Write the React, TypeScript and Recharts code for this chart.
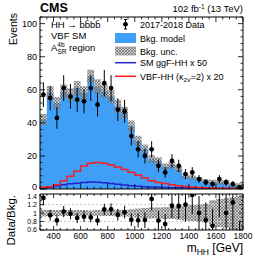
import React from 'react';
import { ComposedChart, Area, Line, Scatter, ErrorBar, XAxis, YAxis, ReferenceLine } from 'recharts';

const FONT = "'Liberation Sans', Arial, Helvetica, sans-serif";

// m_HH bin edges [GeV]
const BIN_EDGES = [300, 350, 400, 450, 500, 550, 600, 650, 700, 750, 800, 850, 900, 950, 1000, 1050,
  1100, 1150, 1200, 1250, 1300, 1350, 1400, 1450, 1500, 1550, 1600, 1650, 1700, 1750, 1800];

// background model (events per bin) and its relative uncertainty
const BKG = [42, 58, 52, 59, 57, 61, 58, 68, 62, 59, 56, 50, 46, 38, 29, 24, 18, 17, 13.5, 14.5,
  12, 7.5, 7, 6, 4.8, 4.3, 4, 4, 2.4, 2.5];
const BKG_UNC = [0.08, 0.07, 0.07, 0.07, 0.07, 0.07, 0.07, 0.06, 0.07, 0.07, 0.07, 0.08, 0.08, 0.09, 0.11,
  0.12, 0.13, 0.13, 0.14, 0.14, 0.16, 0.18, 0.19, 0.2, 0.22, 0.3, 0.33, 0.35, 0.38, 0.4];

// 2017-2018 data
const DATA = [57, 55, 43, 61, 56, 54, 53, 61, 51, 64, 61, 48, 47, 32, 24, 20, 24, 14, 10, 17,
  14, 9, 10, 6, 4, 3, 6, 4, 3, 1];
const DATA_ERR = [7.5, 7.4, 6.6, 7.8, 7.5, 7.3, 7.3, 7.8, 7.1, 8, 7.8, 6.9, 6.9, 5.7, 4.9, 4.5, 4.9, 3.7, 3.2, 4.1,
  3.7, 3, 3.2, 2.4, 2, 1.7, 2.4, 2, 1.7, 1];

// signals
const GGF_X50 = [0.4, 1.0, 1.8, 2.5, 3.1, 3.5, 3.9, 4.3, 4.1, 3.8, 3.4, 2.9, 2.4, 2.0, 1.7, 1.4, 1.2, 1.0, 0.9, 0.8,
  0.7, 0.6, 0.5, 0.45, 0.4, 0.35, 0.3, 0.3, 0.25, 0.2];
const VBF_X20 = [1.0, 1.3, 2.5, 5, 7.7, 10.8, 13.9, 15.5, 16, 15.5, 14.5, 13.3, 11.8, 10.2, 8.4, 6.7, 5, 4, 3.3, 2.6,
  2, 1.5, 1.2, 0.9, 0.7, 0.6, 0.5, 0.4, 0.3, 0.3];

const X_MAJOR = [400, 600, 800, 1000, 1200, 1400, 1600, 1800];
const Y_MAJOR = [0, 20, 40, 60, 80, 100];
const R_MAJOR = [0.6, 0.8, 1, 1.2, 1.4];
const R_MINOR = [0.7, 0.9, 1.1, 1.3];
const R_DOMAIN = [0.6, 1.45];

const X_TICKS = BIN_EDGES;
const Y_TICKS: number[] = [];
for (let v = 0; v <= 104; v += 4) Y_TICKS.push(v);
const R_TICKS = [...R_MAJOR, ...R_MINOR].sort((a, b) => a - b);

// last edge repeats the last bin so the step series close at 1800
const stepRows = BIN_EDGES.map((x, i) => {
  const j = Math.min(i, BKG.length - 1);
  return {
    x,
    bkg: BKG[j],
    band: [BKG[j] * (1 - BKG_UNC[j]), BKG[j] * (1 + BKG_UNC[j])],
    rband: [1 - BKG_UNC[j], 1 + BKG_UNC[j]],
    ggf: GGF_X50[j],
    vbf: VBF_X20[j],
  };
});

const points = DATA.map((d, i) => ({
  x: (BIN_EDGES[i] + BIN_EDGES[i + 1]) / 2,
  y: d,
  err: DATA_ERR[i],
}));
const ratioPoints = DATA.map((d, i) => ({
  x: (BIN_EDGES[i] + BIN_EDGES[i + 1]) / 2,
  y: d / BKG[i],
  err: DATA_ERR[i] / BKG[i],
}));

const isIn = (list: number[], v: number) => list.some((m) => Math.abs(m - v) < 1e-6);

function xTick(side: 'top' | 'bottom', len: number, labels: boolean) {
  return (p: any) => {
    const v = p.payload.value;
    const major = isIn(X_MAJOR, v);
    const l = major ? len : len / 2;
    const d = side === 'bottom' ? -1 : 1;
    return (
      <g>
        <line x1={p.x} x2={p.x} y1={p.y} y2={p.y + d * l} stroke="#000" strokeWidth={0.8} />
        {labels && major && (
          <text x={p.x} y={p.y + 8.5} textAnchor="middle" fontSize={8.5} fontFamily={FONT} fill="#000">
            {v}
          </text>
        )}
      </g>
    );
  };
}

// nudge: small vertical label offset at the panel edge so the two panels' labels do not collide
function yTick(side: 'left' | 'right', len: number, majors: number[], labels: boolean, fs: number,
  nudge: { v: number; dy: number } | null = null) {
  return (p: any) => {
    const v = p.payload.value;
    const major = isIn(majors, v);
    const l = major ? len : len / 2;
    const d = side === 'left' ? 1 : -1;
    const shift = nudge && Math.abs(nudge.v - v) < 1e-6 ? nudge.dy : 0;
    return (
      <g>
        <line x1={p.x} x2={p.x + d * l} y1={p.y} y2={p.y} stroke="#000" strokeWidth={0.8} />
        {labels && major && (
          <text x={p.x - 3} y={p.y + shift} dy="0.35em" textAnchor="end" fontSize={fs} fontFamily={FONT} fill="#000">
            {String(Math.round(v * 10) / 10)}
          </text>
        )}
      </g>
    );
  };
}

const BLUE_FILL = '#3f9ff6';
const GGF_COLOR = '#2323cc';
const VBF_COLOR = '#ff1a1a';

function Hatch({ id }: { id: string }) {
  return (
    <pattern id={id} width="3" height="3" patternUnits="userSpaceOnUse">
      <rect width="3" height="3" fill="#a8a8a8" fillOpacity="0.55" />
      <path d="M0,0 L3,3 M3,0 L0,3" stroke="#505050" strokeWidth="0.55" />
    </pattern>
  );
}

const dot = (p: any) => <circle cx={p.cx} cy={p.cy} r={2.4} fill="#000" />;

// shared geometry of the ratio panel axes
function RatioAxes({ visible }: { visible: boolean }) {
  return [
    <XAxis key="xb" dataKey="x" type="number" domain={[300, 1800]} allowDataOverflow ticks={X_TICKS} interval={0}
      height={28} tickSize={0} tickMargin={0} tickLine={false} axisLine={visible ? { stroke: '#000' } : false}
      tick={visible ? xTick('bottom', 4, true) : false} />,
    <XAxis key="xt" xAxisId="top" orientation="top" dataKey="x" type="number" domain={[300, 1800]}
      allowDataOverflow ticks={X_TICKS} interval={0} height={4} tickSize={0} tickMargin={0} tickLine={false}
      axisLine={visible ? { stroke: '#000' } : false} tick={visible ? xTick('top', 4, false) : false} />,
    <YAxis key="yl" type="number" domain={R_DOMAIN} allowDataOverflow ticks={R_TICKS} interval={0} width={40}
      tickSize={0} tickMargin={0} tickLine={false} axisLine={visible ? { stroke: '#000' } : false}
      tick={visible ? yTick('left', 4, R_MAJOR, true, 7) : false} />,
    <YAxis key="yr" yAxisId="r" orientation="right" type="number" domain={R_DOMAIN} allowDataOverflow
      ticks={R_TICKS} interval={0} width={26} tickSize={0} tickMargin={0} tickLine={false}
      axisLine={visible ? { stroke: '#000' } : false} tick={visible ? yTick('right', 4, R_MAJOR, false, 7) : false} />,
  ];
}

export default function App() {
  return (
    <div style={{ position: 'absolute', left: 0, top: 0, width: 269, height: 258, background: '#fff' }}>
      <div style={{ position: 'absolute', left: 0, top: 0 }}>
        <ComposedChart width={269} height={196} data={stepRows} margin={{ top: 0, right: 0, bottom: 0, left: 0 }}>
          <defs>
            <Hatch id="hatchMain" />
          </defs>
          <XAxis dataKey="x" type="number" domain={[300, 1800]} allowDataOverflow ticks={X_TICKS} interval={0}
            height={7} tickSize={0} tickMargin={0} tickLine={false} axisLine={{ stroke: '#000' }}
            tick={xTick('bottom', 5, false)} />
          <XAxis xAxisId="top" orientation="top" dataKey="x" type="number" domain={[300, 1800]} allowDataOverflow
            ticks={X_TICKS} interval={0} height={17} tickSize={0} tickMargin={0} tickLine={false}
            axisLine={{ stroke: '#000' }} tick={xTick('top', 5, false)} />
          <YAxis type="number" domain={[0, 104]} allowDataOverflow ticks={Y_TICKS} interval={0} width={40}
            tickSize={0} tickMargin={0} tickLine={false} axisLine={{ stroke: '#000' }}
            tick={yTick('left', 5, Y_MAJOR, true, 9, { v: 0, dy: -2 })} />
          <YAxis yAxisId="r" orientation="right" type="number" domain={[0, 104]} allowDataOverflow ticks={Y_TICKS}
            interval={0} width={26} tickSize={0} tickMargin={0} tickLine={false} axisLine={{ stroke: '#000' }}
            tick={yTick('right', 5, Y_MAJOR, false, 9)} />
          <Area type="stepAfter" dataKey="bkg" fill={BLUE_FILL} fillOpacity={1} stroke="none"
            isAnimationActive={false} dot={false} activeDot={false} />
          <Area type="stepAfter" dataKey="band" fill="url(#hatchMain)" fillOpacity={1} stroke="none"
            isAnimationActive={false} dot={false} activeDot={false} />
          <Line type="stepAfter" dataKey="ggf" stroke={GGF_COLOR} strokeWidth={1.5} dot={false} activeDot={false}
            isAnimationActive={false} />
          <Line type="stepAfter" dataKey="vbf" stroke={VBF_COLOR} strokeWidth={1.5} dot={false} activeDot={false}
            isAnimationActive={false} />
          <Scatter data={points} dataKey="y" shape={dot} isAnimationActive={false}>
            <ErrorBar dataKey="err" direction="y" width={0} stroke="#000" strokeWidth={1} />
          </Scatter>
        </ComposedChart>
      </div>

      {/* ratio marks, clipped to the ratio frame */}
      <div style={{ position: 'absolute', left: 0, top: 190, clipPath: 'inset(4px 26px 28px 40px)' }}>
        <ComposedChart width={269} height={68} data={stepRows} margin={{ top: 0, right: 0, bottom: 0, left: 0 }}>
          <defs>
            <Hatch id="hatchRatio" />
          </defs>
          {RatioAxes({ visible: false })}
          <ReferenceLine y={1.2} stroke="#c8c8c8" strokeDasharray="2 2" />
          <ReferenceLine y={1} stroke="#c8c8c8" strokeDasharray="2 2" />
          <ReferenceLine y={0.8} stroke="#c8c8c8" strokeDasharray="2 2" />
          <Area type="stepAfter" dataKey="rband" fill="url(#hatchRatio)" fillOpacity={1} stroke="none"
            isAnimationActive={false} dot={false} activeDot={false} />
          <Scatter data={ratioPoints} dataKey="y" shape={dot} isAnimationActive={false}>
            <ErrorBar dataKey="err" direction="y" width={0} stroke="#000" strokeWidth={1} />
          </Scatter>
        </ComposedChart>
      </div>

      {/* ratio frame and axes */}
      <div style={{ position: 'absolute', left: 0, top: 190 }}>
        <ComposedChart width={269} height={68} data={stepRows} margin={{ top: 0, right: 0, bottom: 0, left: 0 }}>
          {RatioAxes({ visible: true })}
        </ComposedChart>
      </div>

      <svg width={269} height={258} style={{ position: 'absolute', left: 0, top: 0, pointerEvents: 'none' }}
        fontFamily={FONT}>
        <defs>
          <Hatch id="hatchLegend" />
        </defs>
        <text x={40} y={11.5} fontSize={12.5} fontWeight="bold">CMS</text>
        <text x={243} y={12} fontSize={9.5} textAnchor="end">
          102 fb<tspan dy={-3.5} fontSize={6.5}>-1</tspan><tspan dy={3.5}> (13 TeV)</tspan>
        </text>

        <text transform="translate(16.5,13) rotate(-90)" fontSize={10.5} textAnchor="end">Events</text>
        <text transform="translate(15,195) rotate(-90)" fontSize={11.5} textAnchor="end">Data/Bkg.</text>
        <text x={243} y={252} fontSize={12} textAnchor="end">
          m<tspan dy={3} fontSize={8.5}>HH</tspan><tspan dy={-3}> [GeV]</tspan>
        </text>

        <text x={51} y={27.5} fontSize={9.5}>HH → bb̄bb̄</text>
        <text x={51} y={39} fontSize={9.5}>VBF SM</text>
        <text x={51} y={50.5} fontSize={9.5}>
          A<tspan dy={-4} fontSize={6.5}>4b</tspan><tspan x={57.5} dy={7} fontSize={6.5}>SR</tspan>
          <tspan x={69} dy={-3}>region</tspan>
        </text>

        <line x1={125.5} x2={125.5} y1={19.5} y2={29} stroke="#000" strokeWidth={1} />
        <line x1={124} x2={127} y1={19.5} y2={19.5} stroke="#000" strokeWidth={1} />
        <line x1={124} x2={127} y1={29} y2={29} stroke="#000" strokeWidth={1} />
        <circle cx={125.5} cy={24.3} r={2.4} fill="#000" />
        <text x={140} y={27.5} fontSize={9}>2017-2018 Data</text>

        <rect x={115} y={33} width={21} height={10} fill={BLUE_FILL} />
        <text x={140} y={41.5} fontSize={9}>Bkg. model</text>

        <rect x={115} y={46.5} width={21} height={9} fill="url(#hatchLegend)" />
        <text x={140} y={54.5} fontSize={9}>Bkg. unc.</text>

        <line x1={115} x2={136} y1={62.7} y2={62.7} stroke={GGF_COLOR} strokeWidth={1.5} />
        <text x={140} y={66} fontSize={9}>SM ggF-HH x 50</text>

        <line x1={115} x2={136} y1={76.3} y2={76.3} stroke={VBF_COLOR} strokeWidth={1.5} />
        <text x={140} y={79.5} fontSize={9}>
          VBF-HH (κ<tspan dy={2.5} fontSize={6}>2V</tspan><tspan dy={-2.5}>=2) x 20</tspan>
        </text>
      </svg>
    </div>
  );
}
